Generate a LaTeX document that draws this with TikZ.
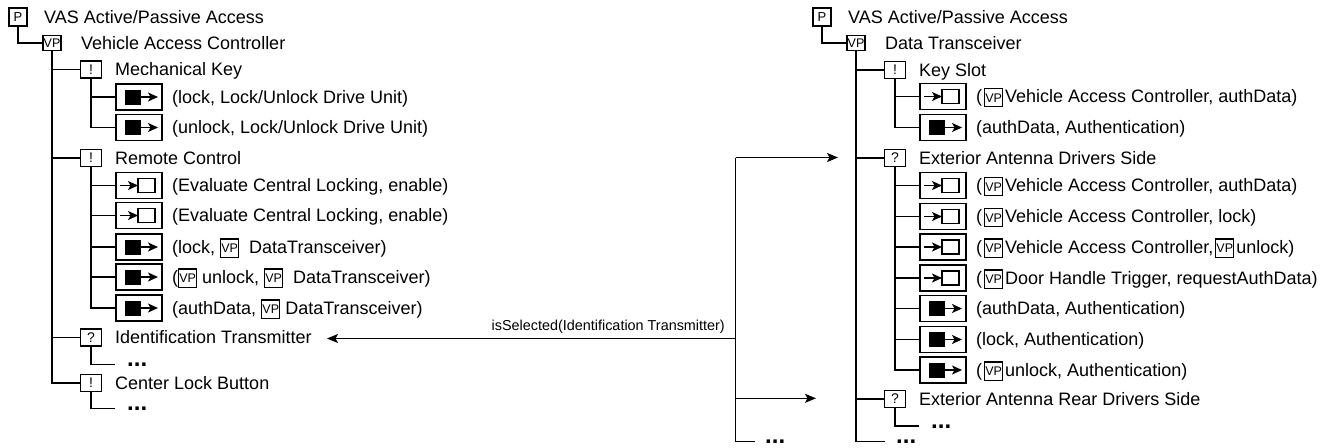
\documentclass[tikz,border=0pt]{standalone}
\usepackage{fontspec}
\setmainfont{Liberation Sans}
\usetikzlibrary{arrows.meta,calc}
\newcommand{\vpin}{\raisebox{-3.5pt}{\setlength{\fboxrule}{1.1pt}\setlength{\fboxsep}{0pt}\fbox{\makebox[16.8pt]{\rule{0pt}{17.3pt}\raisebox{4.2pt}{\fontsize{12.5}{12.5}\selectfont VP}}}}}
\newcommand{\outsym}[1]{%
  \fill ([shift={(-14,-7.5)}]#1.center) rectangle ([shift={(2,7.5)}]#1.center);
  \draw[sym] ([shift={(2,0)}]#1.center) -- ([shift={(19,0)}]#1.center);}
\newcommand{\insym}[1]{%
  \draw[sym] ([shift={(-19,0)}]#1.center) -- ([shift={(-1,0)}]#1.center);
  \draw[line width=1.3pt] ([shift={(-1,-7)}]#1.center) rectangle ([shift={(16,7)}]#1.center);}
\tikzset{
  every node/.style={inner sep=0pt},
  lbl/.style={anchor=base west, font=\fontsize{18}{18}\selectfont},
  pbox/.style={draw, line width=1.2pt, minimum width=18pt, minimum height=18pt, font=\fontsize{13}{13}\selectfont},
  vpbox/.style={draw, line width=1.2pt, minimum width=18pt, minimum height=15pt, font=\fontsize{12.5}{12.5}\selectfont},
  kbox/.style={draw, line width=1.2pt, minimum width=21pt, minimum height=17pt, font=\fontsize{14}{14}\selectfont},
  bbox/.style={draw, line width=1.6pt, minimum width=46pt, minimum height=26pt},
  tree/.style={line width=1.6pt},
  sym/.style={line width=1.3pt, -{Stealth[length=10pt,width=9pt,inset=2.5pt]}},
  conn/.style={line width=1.4pt, -{Stealth[length=11pt,width=9pt,inset=2.5pt]}},
  dots/.style={anchor=base west, font=\fontsize{24}{24}\selectfont\bfseries},
  clbl/.style={anchor=base east, font=\fontsize{14.4}{14.4}\selectfont},
}
\begin{document}
\begin{tikzpicture}[x=1pt,y=-1pt]
\useasboundingbox (0,0) rectangle (1340,447);
% ---------------- left tree ----------------
\node[pbox] (LP) at (18,17) {P};
\node[lbl] (LPt) at (44,23.3) {VAS Active/Passive Access};
\node[vpbox] (LVP) at (52,43) {VP};
\node[lbl] (LVPt) at (81,49.3) {Vehicle Access Controller};
\draw[tree] (LP.south) |- (LVP.west);
\node[kbox] (LMK) at (91,69.5) {!};
\node[lbl] (LMKt) at (115,75.5) {Mechanical Key};
\node[bbox] (LMK1) at (139,97) {}; \outsym{LMK1}
\node[lbl] (LMK1t) at (172,103.3) {(lock, Lock/Unlock Drive Unit)};
\node[bbox] (LMK2) at (139,127.5) {}; \outsym{LMK2}
\node[lbl] (LMK2t) at (172,133.8) {(unlock, Lock/Unlock Drive Unit)};
\draw[tree] (LMK.south) |- (LMK2.west);
\draw[tree] (LMK.south |- LMK1.west) -- (LMK1.west);
\node[kbox] (LRC) at (91,158) {!};
\node[lbl] (LRCt) at (115,164.3) {Remote Control};
\node[bbox] (LRC1) at (139,185.5) {}; \insym{LRC1}
\node[lbl] (LRC1t) at (172,191.8) {(Evaluate Central Locking, enable)};
\node[bbox] (LRC2) at (139,215.5) {}; \insym{LRC2}
\node[lbl] (LRC2t) at (172,221.8) {(Evaluate Central Locking, enable)};
\node[bbox] (LRC3) at (139,247) {}; \outsym{LRC3}
\node[lbl] (LRC3t) at (172,253.3) {(lock, \vpin\ \ DataTransceiver)};
\node[bbox] (LRC4) at (139,277) {}; \outsym{LRC4}
\node[lbl] (LRC4t) at (172,283.3) {(\vpin\ unlock, \vpin\ \ DataTransceiver)};
\node[bbox] (LRC5) at (139,308) {}; \outsym{LRC5}
\node[lbl] (LRC5t) at (172,314.3) {(authData, \vpin\ DataTransceiver)};
\draw[tree] (LRC.south) |- (LRC5.west);
\foreach \n in {LRC1,LRC2,LRC3,LRC4} \draw[tree] (LRC.south |- \n.west) -- (\n.west);
\node[kbox] (LIT) at (91,337.5) {?};
\node[lbl] (LITt) at (115,343.8) {Identification Transmitter};
\coordinate (LITd) at (115,364.5);
\node[dots] (LITdots) at (127,366.5) {...};
\draw[tree] (LIT.south) |- (LITd);
\node[kbox] (LCL) at (91,383) {!};
\node[lbl] (LCLt) at (115,389.3) {Center Lock Button};
\coordinate (LCLd) at (115,408.5);
\node[dots] (LCLdots) at (127,410.5) {...};
\draw[tree] (LCL.south) |- (LCLd);
\draw[tree] (LVP.south) |- (LCL.west);
\foreach \n in {LMK,LRC,LIT} \draw[tree] (LVP.south |- \n.west) -- (\n.west);
% ---------------- right tree ----------------
\begin{scope}[xshift=804pt]
\node[pbox] (RP) at (18,17) {P};
\node[lbl] (RPt) at (44,23.3) {VAS Active/Passive Access};
\node[vpbox] (RVP) at (52,43) {VP};
\node[lbl] (RVPt) at (81,49.3) {Data Transceiver};
\draw[tree] (RP.south) |- (RVP.west);
\node[kbox] (RKS) at (91,70) {!};
\node[lbl] (RKSt) at (115,76) {Key Slot};
\node[bbox] (RKS1) at (139,96.5) {}; \insym{RKS1}
\node[lbl] (RKS1t) at (172,102.8) {(\hspace{2pt}\vpin\hspace{2pt}Vehicle Access Controller, authData)};
\node[bbox] (RKS2) at (139,127.5) {}; \outsym{RKS2}
\node[lbl] (RKS2t) at (172,133.8) {(authData, Authentication)};
\draw[tree] (RKS.south) |- (RKS2.west);
\draw[tree] (RKS.south |- RKS1.west) -- (RKS1.west);
\node[kbox] (RED) at (91,158) {?};
\node[lbl] (REDt) at (115,164.3) {Exterior Antenna Drivers Side};
\node[bbox] (RED1) at (139,185.5) {}; \insym{RED1}
\node[lbl] (RED1t) at (172,191.8) {(\hspace{2pt}\vpin\hspace{2pt}Vehicle Access Controller, authData)};
\node[bbox] (RED2) at (139,216.5) {}; \insym{RED2}
\node[lbl] (RED2t) at (172,222.8) {(\hspace{2pt}\vpin\hspace{2pt}Vehicle Access Controller, lock)};
\node[bbox] (RED3) at (139,247) {}; \insym{RED3}
\node[lbl] (RED3t) at (172,253.3) {(\hspace{2pt}\vpin\hspace{2pt}Vehicle Access Controller,\hspace{2pt}\vpin\hspace{2pt}unlock)};
\node[bbox] (RED4) at (139,278) {}; \insym{RED4}
\node[lbl] (RED4t) at (172,284.3) {(\hspace{2pt}\vpin\hspace{2pt}Door Handle Trigger, requestAuthData)};
\node[bbox] (RED5) at (139,308.5) {}; \outsym{RED5}
\node[lbl] (RED5t) at (172,314.8) {(authData, Authentication)};
\node[bbox] (RED6) at (139,339.5) {}; \outsym{RED6}
\node[lbl] (RED6t) at (172,345.8) {(lock, Authentication)};
\node[bbox] (RED7) at (139,370) {}; \outsym{RED7}
\node[lbl] (RED7t) at (172,376.3) {(\hspace{2pt}\vpin\hspace{2pt}unlock, Authentication)};
\draw[tree] (RED.south) |- (RED7.west);
\foreach \n in {RED1,RED2,RED3,RED4,RED5,RED6} \draw[tree] (RED.south |- \n.west) -- (\n.west);
\node[kbox] (RER) at (91,399) {?};
\node[lbl] (RERt) at (115,405.3) {Exterior Antenna Rear Drivers Side};
\coordinate (RERd) at (115,426);
\node[dots] (RERdots) at (127,428) {...};
\draw[tree] (RER.south) |- (RERd);
\coordinate (Rend) at (81,441.5);
\node[dots] (Renddots) at (92,443.5) {...};
\draw[tree] (RVP.south) |- (Rend);
\foreach \n in {RKS,RED,RER} \draw[tree] (RVP.south |- \n.west) -- (\n.west);
\end{scope}
% ---------------- middle connectors ----------------
\coordinate (MT) at (735.7,157.5);
\coordinate (MJ) at (735.7,338.5);
\coordinate (MM) at (735.7,398.3);
\coordinate (MB) at (735.7,441.5);
\coordinate (MTtip) at (838,157.5);
\coordinate (MMtip) at (816,398.3);
\coordinate (MLtip) at (327,338.5);
\coordinate (MBend) at (755,441.5);
\draw[line width=1.4pt] (MT) -- (MB) -- (MBend);
\node[dots] (Mdots) at (765,443.5) {...};
\draw[conn] (MT) -- (MTtip);
\draw[conn] (MM) -- (MMtip);
\draw[conn] (MJ) -- (MLtip);
\node[clbl] (Mlbl) at (725,330) {isSelected(Identification Transmitter)};
\end{tikzpicture}
\end{document}
